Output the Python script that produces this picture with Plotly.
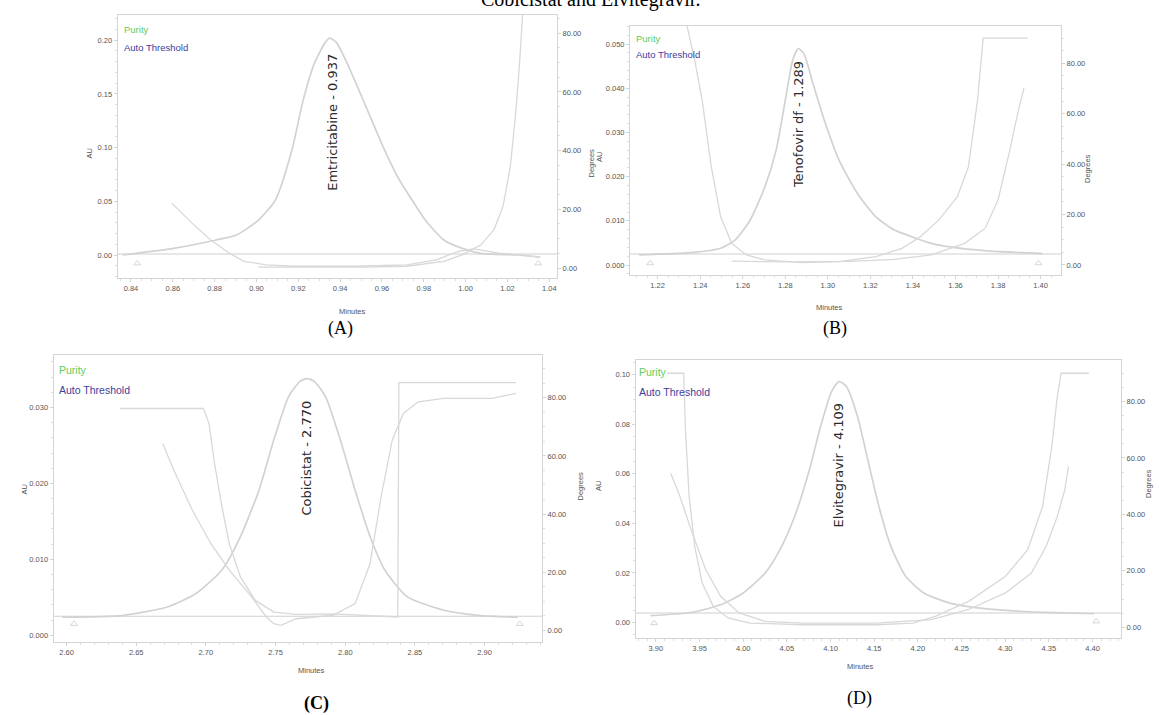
import plotly.graph_objects as go

W, H = 1159, 715

# ---------------- Panel A : Emtricitabine ----------------
a_peak_x = [0.836, 0.8604, 0.8807, 0.8904, 0.901, 0.909, 0.917, 0.9223, 0.9276, 0.9329, 0.935,
            0.9382, 0.9435, 0.9524, 0.9612, 0.9683, 0.9745, 0.9807, 0.9896, 0.9984, 1.0073, 1.025, 1.0356]
a_peak_y = [0.0, 0.0062, 0.014, 0.0186, 0.0326, 0.051, 0.098, 0.144, 0.178, 0.198, 0.202,
            0.198, 0.178, 0.138, 0.098, 0.070, 0.051, 0.0326, 0.014, 0.0062, 0.0016, 0.0, -0.002]
a_ang_x = [0.8595, 0.8692, 0.878, 0.8869, 0.894, 0.9046, 0.9188, 0.9453, 0.9719, 0.986, 0.9966, 1.0037, 1.0161, 1.032, 1.0356]
a_ang_y = [22.1, 15.3, 9.6, 5.1, 2.3, 1.1, 0.6, 0.6, 1.1, 2.8, 5.7, 6.5, 5.1, 4.0, 3.7]
a_thr_x = [0.901, 0.95, 0.9719, 0.9896, 0.9984, 1.0073, 1.0135, 1.0179, 1.0214, 1.0241, 1.0258, 1.0271, 1.028]
a_thr_y = [0.3, 0.3, 0.6, 2.3, 4.5, 7.9, 13.0, 21.0, 34.6, 53.9, 69.8, 83.4, 95.0]
a_base = 0.001
a_marks_x = [0.843, 1.0347]
a_marks_y = [-0.0078, -0.0078]

# ---------------- Panel B : Tenofovir df ----------------
b_peak_x = [1.2113, 1.2357, 1.2496, 1.2565, 1.2635, 1.2704, 1.2757, 1.28, 1.2835, 1.2861, 1.2887, 1.293,
            1.2983, 1.3052, 1.3139, 1.3226, 1.3313, 1.34, 1.3487, 1.3574, 1.3748, 1.4009]
b_peak_y = [0.0023, 0.0028, 0.0038, 0.0057, 0.0102, 0.0177, 0.026, 0.0373, 0.0464, 0.049, 0.0479, 0.0411,
            0.0328, 0.0238, 0.0162, 0.0109, 0.0079, 0.0063, 0.0049, 0.0041, 0.0032, 0.0026]
b_ang_x = [1.2335, 1.2374, 1.2409, 1.2452, 1.2496, 1.2548, 1.2617, 1.2704, 1.2878, 1.3052, 1.3226, 1.3348,
           1.3435, 1.3522, 1.3609, 1.3661, 1.3704, 1.373, 1.3748, 1.3939]
b_ang_y = [96.0, 81.3, 65.5, 39.0, 19.2, 8.6, 4.0, 2.0, 0.9, 1.3, 3.3, 6.6, 11.2, 17.9, 27.1, 39.0, 65.5, 90.0, 90.0, 90.0]
b_thr_x = [1.255, 1.28, 1.31, 1.3313, 1.3487, 1.3643, 1.3739, 1.38, 1.3852, 1.3896, 1.3922]
b_thr_y = [1.5, 1.2, 1.4, 2.2, 4.0, 8.6, 14.5, 25.8, 44.3, 61.5, 70.1]
b_base = 0.0025
b_marks_x = [1.2165, 1.399]
b_marks_y = [0.0004, 0.0004]

# ---------------- Panel C : Cobicistat ----------------
c_peak_x = [2.597, 2.6398, 2.6717, 2.6929, 2.7115, 2.7248, 2.7381, 2.7487, 2.7593, 2.7673, 2.7726, 2.7779,
            2.7859, 2.7965, 2.8071, 2.8178, 2.8284, 2.8443, 2.8708, 2.8974, 2.924]
c_peak_y = [0.0024, 0.0026, 0.0037, 0.0055, 0.0086, 0.013, 0.0191, 0.0257, 0.0314, 0.0334, 0.0338, 0.0334,
            0.0314, 0.0257, 0.0191, 0.013, 0.0086, 0.0051, 0.0033, 0.0026, 0.0024]
c_ang_x = [2.6385, 2.6982, 2.7022, 2.7062, 2.7115, 2.7168, 2.7248, 2.7354, 2.7487, 2.7646, 2.7912, 2.8178,
           2.8377, 2.8385, 2.9226]
c_ang_y = [76.3, 76.3, 71.2, 57.4, 42.5, 29.8, 18.4, 10.3, 6.3, 5.5, 5.7, 5.2, 4.6, 85.2, 85.2]
c_thr_x = [2.669, 2.677, 2.6903, 2.7036, 2.7168, 2.7328, 2.7434, 2.7487, 2.754, 2.7646, 2.7912, 2.8071,
           2.8178, 2.8257, 2.8337, 2.8417, 2.8523, 2.8708, 2.9054, 2.9226]
c_thr_y = [64.3, 55.1, 41.3, 29.8, 20.7, 11.5, 4.6, 2.3, 1.7, 4.0, 5.2, 9.2, 23.0, 45.9, 65.4, 74.6, 78.6,
           79.8, 79.8, 81.5]
c_base = 0.0025
c_marks_x = [2.6053, 2.9253]
c_marks_y = [0.0015, 0.0015]

# ---------------- Panel D : Elvitegravir ----------------
d_peak_x = [3.8936, 3.9403, 3.9742, 3.9996, 4.025, 4.042, 4.0589, 4.0758, 4.0886, 4.1013, 4.1097, 4.1182,
            4.1309, 4.1436, 4.1564, 4.1691, 4.186, 4.2072, 4.2369, 4.2708, 4.3216, 4.3725, 4.4021]
d_peak_y = [0.0027, 0.004, 0.0071, 0.0118, 0.0199, 0.0293, 0.0428, 0.0616, 0.0791, 0.0933, 0.0973, 0.0953,
            0.0832, 0.0643, 0.0455, 0.0307, 0.0186, 0.0118, 0.0078, 0.0058, 0.0044, 0.0038, 0.0035]
d_ang_x = [3.9127, 3.9318, 3.9339, 3.9381, 3.9445, 3.953, 3.9657, 3.9826, 4.008, 4.0674, 4.1521, 4.1945,
           4.2199, 4.2581, 4.3004, 4.3258, 4.3428, 4.3534, 4.3597, 4.364, 4.3958]
d_ang_y = [90.0, 90.0, 70.0, 46.4, 28.7, 15.7, 7.4, 3.3, 1.5, 0.9, 0.9, 1.5, 3.9, 9.2, 18.1, 27.5, 42.8,
           64.1, 81.8, 90.0, 90.0]
d_thr_x = [3.917, 3.9275, 3.9403, 3.9572, 3.9742, 3.9953, 4.025, 4.0674, 4.1521, 4.2157, 4.2581, 4.3004,
           4.33, 4.347, 4.3597, 4.3682, 4.3725]
d_thr_y = [54.6, 46.4, 34.6, 20.4, 11.0, 5.1, 2.1, 1.5, 1.5, 2.7, 6.3, 12.2, 19.2, 28.7, 39.3, 48.7, 57.0]
d_base = 0.0038
d_marks_x = [3.8979, 4.4042]
d_marks_y = [-0.0003, 0.0004]

peak_names = ["Emtricitabine - 0.937", "Tenofovir df - 1.289", "Cobicistat - 2.770", "Elvitegravir - 4.109"]
captions = ["(A)", "(B)", "(C)", "(D)"]
title_text = "Cobicistat and Elvitegravir."

# ---------------- layout geometry (pixels) ----------------
panels = [
    dict(peak=(a_peak_x, a_peak_y), ang=(a_ang_x, a_ang_y), thr=(a_thr_x, a_thr_y), base=a_base,
         marks=(a_marks_x, a_marks_y), box=(117.6, 557, 15, 278),
         xr=[0.8336, 1.0437], yr=[-0.0214, 0.2235], dr=[-3.4, 86.2], xd=0.02, yd=0.05, yfmt=".2f",
         peakx=0.936, labely=122, au=(83, 147), deg=(591, 147), minutes=(337, 312), cap=(340, 329),
         leg=(122, 29, 47, 9), capbold=False),
    dict(peak=(b_peak_x, b_peak_y), ang=(b_ang_x, b_ang_y), thr=(b_thr_x, b_thr_y), base=b_base,
         marks=(b_marks_x, b_marks_y), box=(630, 1061, 26, 275),
         xr=[1.207, 1.4096], yr=[-0.00226, 0.0541], dr=[-3.97, 94.8], xd=0.02, yd=0.01, yfmt=".3f",
         peakx=1.2865, labely=125, au=(599, 150), deg=(1094, 152), minutes=(845, 307), cap=(835, 329),
         leg=(634, 38, 55, 9), capbold=False),
    dict(peak=(c_peak_x, c_peak_y), ang=(c_ang_x, c_ang_y), thr=(c_thr_x, c_thr_y), base=c_base,
         marks=(c_marks_x, c_marks_y), box=(53.6, 542, 355, 642),
         xr=[2.5907, 2.9412], yr=[-0.00088, 0.0369], dr=[-4.0, 94.7], xd=0.05, yd=0.01, yfmt=".3f",
         peakx=2.7715, labely=458, au=(17, 497), deg=(580, 503), minutes=(296, 677), cap=(316, 703),
         leg=(57, 370, 390, 10), capbold=True),
    dict(peak=(d_peak_x, d_peak_y), ang=(d_ang_x, d_ang_y), thr=(d_thr_x, d_thr_y), base=d_base,
         marks=(d_marks_x, d_marks_y), box=(635.5, 1121, 360, 638),
         xr=[3.8767, 4.4326], yr=[-0.0063, 0.106], dr=[-3.8, 94.7], xd=0.05, yd=0.02, yfmt=".2f",
         peakx=4.108, labely=465, au=(598, 493), deg=(1155, 500), minutes=(876, 673), cap=(859, 698),
         leg=(637, 372, 392, 10), capbold=False),
]

def px(p):
    return p / W

def py(p):
    return 1 - p / H

fig = go.Figure()
layout = dict(width=W, height=H, margin=dict(l=0, r=0, t=0, b=0), paper_bgcolor="white",
              plot_bgcolor="white", showlegend=False)
annotations = []

FAM = "Liberation Sans Narrow, Arial Narrow, Liberation Sans, Arial, sans-serif"
TICKFONT = dict(family=FAM, size=7.5, color="#555555")
AXC = "#d4d4d4"
PEAKC = "#d2d2d2"
CURVEC = "#d8d8d8"

for i, p in enumerate(panels):
    n = i + 1
    xa = "x" if n == 1 else f"x{n}"
    yl_n = 2 * i + 1
    yr_n = 2 * i + 2
    yl = "y" if yl_n == 1 else f"y{yl_n}"
    yr = f"y{yr_n}"
    x0, x1, t0, b0 = p["box"]

    # peak (AU)
    fig.add_trace(go.Scatter(x=p["peak"][0], y=p["peak"][1], xaxis=xa, yaxis=yl, mode="lines",
                             line=dict(color=PEAKC, width=1.7, shape="spline", smoothing=0.6), hoverinfo="skip"))
    # baseline / threshold horizontal line (AU)
    fig.add_trace(go.Scatter(x=p["xr"], y=[p["base"], p["base"]], xaxis=xa, yaxis=yl, mode="lines",
                             line=dict(color="#d0d0d0", width=1.1), hoverinfo="skip"))
    # integration marks
    fig.add_trace(go.Scatter(x=p["marks"][0], y=p["marks"][1], xaxis=xa, yaxis=yl, mode="markers",
                             marker=dict(symbol="triangle-up-open", size=6, color="#d6d6d6", line=dict(width=1)),
                             hoverinfo="skip"))
    # purity angle & threshold (Degrees)
    fig.add_trace(go.Scatter(x=p["ang"][0], y=p["ang"][1], xaxis=xa, yaxis=yr, mode="lines",
                             line=dict(color=CURVEC, width=1.3), hoverinfo="skip"))
    fig.add_trace(go.Scatter(x=p["thr"][0], y=p["thr"][1], xaxis=xa, yaxis=yr, mode="lines",
                             line=dict(color=CURVEC, width=1.3), hoverinfo="skip"))

    xkey = "xaxis" if n == 1 else f"xaxis{n}"
    ylkey = "yaxis" if yl_n == 1 else f"yaxis{yl_n}"
    yrkey = f"yaxis{yr_n}"
    layout[xkey] = dict(domain=[px(x0), px(x1)], anchor=yl, range=p["xr"], dtick=p["xd"], tick0=0,
                        tickformat=".2f", showline=True, linecolor=AXC, linewidth=1, mirror=True,
                        ticks="outside", ticklen=3, tickcolor=AXC, showgrid=False, zeroline=False,
                        tickfont=TICKFONT, minor=dict(ticks="outside", ticklen=2, tickcolor="#dddddd", nticks=5),
                        fixedrange=True)
    layout[ylkey] = dict(domain=[py(b0), py(t0)], anchor=xa, range=p["yr"], dtick=p["yd"], tick0=0,
                         tickformat=p["yfmt"], showline=True, linecolor=AXC, linewidth=1,
                         ticks="outside", ticklen=3, tickcolor=AXC, showgrid=False, zeroline=False,
                         tickfont=TICKFONT, minor=dict(ticks="outside", ticklen=2, tickcolor="#dddddd", nticks=5))
    layout[yrkey] = dict(overlaying=yl, side="right", anchor=xa, range=p["dr"], dtick=20, tick0=0,
                         tickformat=".2f", showline=True, linecolor=AXC, linewidth=1,
                         ticks="outside", ticklen=3, tickcolor=AXC, showgrid=False, zeroline=False,
                         tickfont=TICKFONT, minor=dict(ticks="outside", ticklen=2, tickcolor="#dddddd", nticks=5))

    # peak label (rotated)
    annotations.append(dict(x=p["peakx"], xref=xa, y=py(p["labely"]), yref="paper", text=peak_names[i],
                            textangle=-90, showarrow=False, xanchor="center", yanchor="middle",
                            font=dict(family="DejaVu Sans, sans-serif", size=13, color="#2a2a2a")))
    # axis titles
    annotations.append(dict(x=px(p["au"][0]), y=py(p["au"][1]), xref="paper", yref="paper", text="AU",
                            textangle=-90, showarrow=False, font=dict(family=FAM, size=7.5, color="#555")))
    annotations.append(dict(x=px(p["deg"][0]), y=py(p["deg"][1]), xref="paper", yref="paper", text="Degrees",
                            textangle=-90, showarrow=False, font=dict(family=FAM, size=7.5, color="#555")))
    annotations.append(dict(x=px(p["minutes"][0]), y=py(p["minutes"][1]), xref="paper", yref="paper",
                            text="Minutes", showarrow=False, font=dict(family=FAM, size=7.5, color="#555")))
    # legend texts
    lx, ly1, ly2, lfs = p["leg"]
    annotations.append(dict(x=px(lx), y=py(ly1), xref="paper", yref="paper", text="Purity", showarrow=False,
                            xanchor="left", yanchor="middle",
                            font=dict(family=FAM, size=lfs + 0.5, color="#5fcc5f")))
    annotations.append(dict(x=px(lx), y=py(ly2), xref="paper", yref="paper", text="Auto Threshold", showarrow=False,
                            xanchor="left", yanchor="middle",
                            font=dict(family=FAM, size=lfs + 0.5, color="#3c3ca0")))
    # caption
    cap = f"<b>{captions[i]}</b>" if p["capbold"] else captions[i]
    annotations.append(dict(x=px(p["cap"][0]), y=py(p["cap"][1]), xref="paper", yref="paper", text=cap,
                            showarrow=False, xanchor="center", yanchor="middle",
                            font=dict(family="Liberation Serif, Times New Roman, serif", size=18, color="black")))

# title line of the source document, cut off at the top edge as in the reference
annotations.append(dict(x=px(590), y=py(13), xref="paper", yref="paper", text=title_text, showarrow=False,
                        xanchor="center", yanchor="bottom",
                        font=dict(family="Liberation Serif, Times New Roman, serif", size=20, color="black")))

layout["annotations"] = annotations
fig.update_layout(**layout)
fig.write_html("out.html")
